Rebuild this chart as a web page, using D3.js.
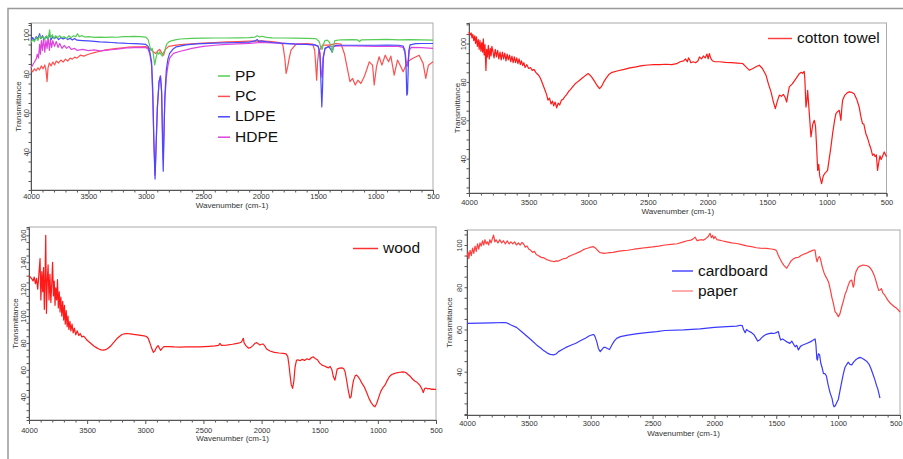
<meta charset="utf-8">

<!-- Load d3.js -->
<script src="https://d3js.org/d3.v7.min.js"></script>

<style>
  body { margin: 0; background: #fff; }
  svg text { font-family: "Liberation Sans", Arial, sans-serif; }
</style>

<div id="spectra"></div>
<script>

// x axis: wavenumber, same for every panel
var wavenumberDomain = [4000, 500];

// ---- panel 1 : plastics, [wavenumber, transmittance] ----
var pp = [[4000,96],[3985,97.5],[3970,96.5],[3955,98.5],[3940,97],[3925,99.5],[3910,98],[3895,99],[3880,97.5],[3865,99.5],[3850,98],[3838,102.5],[3830,98.5],[3815,100],[3800,98],[3785,99.5],[3770,98.5],[3750,99.5],[3730,98.5],[3710,99],[3690,98],[3670,99.5],[3650,98.5],[3630,99.5],[3610,99],[3595,100.5],[3580,99],[3560,99.5],[3530,98.8],[3500,99],[3450,98.6],[3400,98.8],[3350,98.6],[3300,98.8],[3250,98.7],[3200,99],[3150,99],[3100,99.1],[3050,99],[3000,98.8],[2980,97.5],[2965,94],[2955,92],[2945,93],[2935,90],[2923,84.5],[2912,88],[2900,91],[2890,90],[2880,91.2],[2870,90],[2855,89],[2845,91],[2835,92],[2820,95],[2800,96.3],[2770,97],[2735,97.5],[2700,97.8],[2600,98.1],[2500,98.2],[2400,98.3],[2300,98.3],[2200,98.4],[2100,98.5],[2050,98.8],[2030,99.5],[2010,98.8],[1990,99.2],[1950,98.6],[1900,98.4],[1800,98.3],[1700,98.2],[1600,98.1],[1520,98],[1490,96.5],[1475,93],[1465,92.5],[1455,95],[1440,97],[1420,97.2],[1400,96],[1385,93],[1376,91],[1368,94],[1355,97],[1300,97.4],[1200,97.5],[1155,97.3],[1140,96.5],[1125,97.3],[1000,97.5],[900,97.6],[800,97.4],[700,97.5],[600,97.3],[500,97.2]];

var pc = [[4000,82],[3985,81],[3970,82.5],[3955,81.5],[3940,83],[3925,82],[3910,84],[3895,82.5],[3880,84.5],[3870,82],[3860,76],[3852,83],[3840,85.5],[3825,84],[3810,86],[3795,84.5],[3780,86.5],[3760,85.5],[3740,87],[3720,86],[3700,87.5],[3680,86.5],[3660,88],[3640,87.5],[3620,88.5],[3600,88],[3570,89.5],[3540,89],[3500,90],[3450,90.8],[3400,91.5],[3350,92.2],[3300,92.6],[3250,93],[3200,93.3],[3150,93.6],[3100,93.8],[3050,93.8],[3000,93.9],[2970,93],[2950,92],[2930,91],[2915,90.4],[2900,91.5],[2880,92.5],[2860,90.5],[2845,89.5],[2830,92.5],[2800,94],[2750,94.5],[2700,94.9],[2600,95.3],[2500,95.7],[2400,96],[2300,96.3],[2200,96.5],[2100,96.7],[2000,96.8],[1900,96.5],[1837,96],[1808,95],[1790,88],[1779,80.2],[1765,83.6],[1750,88.5],[1736,92.1],[1692,95.2],[1605,95.5],[1547,95.2],[1530,92],[1524,87],[1513,76.7],[1505,86],[1495,91.3],[1461,94.7],[1403,94.7],[1345,95.5],[1301,95.2],[1272,90.4],[1243,81.9],[1223,75.9],[1200,77.6],[1177,74.2],[1154,76.7],[1128,75],[1099,78.4],[1078,81.9],[1055,86.1],[1026,84.4],[1012,74.2],[992,83.6],[969,88.7],[945,84.4],[916,89.5],[887,86.1],[867,89],[838,79.3],[809,87],[780,83.6],[760,81],[722,86.1],[679,87.8],[621,89.5],[586,85.3],[563,77.6],[540,84.4],[500,86.1]];

var ldpe = [[4000,97],[3985,98.5],[3970,97],[3955,99],[3940,98],[3925,100.5],[3915,98],[3900,99.5],[3885,97.5],[3870,99],[3855,98],[3840,100],[3825,97.5],[3810,99],[3795,98],[3780,99],[3760,97.5],[3740,98.5],[3720,97.8],[3700,98.5],[3680,97.5],[3660,98.2],[3640,97.3],[3620,98],[3600,97.2],[3550,97],[3500,96.8],[3450,96.6],[3400,96.3],[3350,96.2],[3300,96],[3250,95.8],[3200,95.7],[3150,95.5],[3100,95.4],[3050,95.3],[3000,95],[2980,94],[2965,91],[2950,86],[2940,72],[2930,45],[2920,26],[2912,40],[2900,62],[2885,76],[2872,78.5],[2862,70],[2855,45],[2849,30],[2843,45],[2835,68],[2822,82],[2808,87.5],[2793,90.4],[2765,92.5],[2735,93.8],[2650,94.8],[2561,95.3],[2400,95.7],[2200,96],[2100,96.2],[2050,96.8],[2030,97.5],[2015,96.5],[2000,96.8],[1900,96],[1800,95.6],[1700,95.2],[1600,95],[1530,94.8],[1500,94],[1485,90],[1475,75],[1468,63],[1462,72],[1455,88],[1440,93],[1410,94],[1390,92.5],[1378,91],[1368,93.5],[1350,94.5],[1300,94.6],[1200,94.6],[1100,94.6],[1000,94.6],[900,94.7],[800,94.6],[760,94.2],[745,92],[735,84],[728,69],[722,70],[716,82],[710,92],[700,94.8],[650,95.4],[600,95.5],[500,95.5]];

var hdpe = [[4000,83],[3985,84.5],[3970,86],[3955,87.5],[3945,90],[3935,88],[3925,95],[3918,90],[3910,97],[3900,92],[3890,98.5],[3880,91],[3870,97],[3860,93],[3850,99],[3840,92],[3830,97.5],[3820,93.5],[3810,97],[3795,94],[3780,96.5],[3765,93.5],[3750,95.5],[3730,93],[3710,94.5],[3690,93],[3670,94],[3650,92.5],[3620,93],[3600,92],[3550,92.5],[3500,91.8],[3450,92.2],[3400,91.7],[3350,92],[3300,92.3],[3250,92.6],[3200,93],[3150,93.3],[3100,93.4],[3050,93.5],[3000,93.4],[2980,92.5],[2965,90],[2950,84],[2940,68],[2930,44],[2920,28],[2912,42],[2900,63],[2885,76],[2874,79],[2864,72],[2855,50],[2849,36],[2843,50],[2835,66],[2822,78],[2808,84],[2793,88],[2760,90.4],[2700,91.5],[2650,92.2],[2600,93],[2500,94],[2400,94.6],[2300,95],[2200,95.3],[2100,95.6],[2000,96],[1900,95.8],[1800,95.6],[1700,95.3],[1600,95],[1530,94.8],[1500,94.2],[1485,91],[1472,80],[1465,78],[1458,88],[1440,93],[1400,94],[1300,94.2],[1200,94.2],[1100,94.1],[1000,94],[900,94],[800,94],[760,93.5],[740,90],[730,84],[722,84],[715,88],[705,92],[690,93.5],[600,93.4],[500,93]];

// ---- panel 2 : cotton towel ----
var cotton = [[4000,106],[3990,104.5],[3982,105.5],[3975,103],[3968,104.8],[3960,101.5],[3952,104],[3945,100],[3938,103.5],[3930,98.5],[3922,102],[3915,97],[3908,101.5],[3900,96],[3893,100.5],[3886,95.5],[3880,102.5],[3873,94],[3866,99.5],[3858,86],[3852,97],[3845,93],[3838,99],[3830,92],[3822,97.5],[3815,93.5],[3808,98.5],[3800,96],[3790,92.5],[3780,97],[3770,93],[3760,96.5],[3750,92],[3740,95.5],[3730,91.5],[3720,95.5],[3710,92],[3700,95],[3690,91],[3680,94.5],[3670,91.5],[3660,94],[3650,90.5],[3640,93.5],[3630,90],[3620,93],[3610,90],[3600,92.5],[3590,89.5],[3580,92],[3570,89],[3560,91],[3550,88.5],[3540,90],[3530,87.5],[3515,89],[3500,87],[3485,87.5],[3470,86],[3455,86.5],[3440,85],[3425,84],[3410,83],[3395,81],[3380,78.5],[3365,76],[3350,73.5],[3338,70.5],[3325,71.5],[3312,68.5],[3300,70],[3290,67.5],[3278,69.5],[3265,66.5],[3252,69],[3240,68],[3225,70.5],[3210,71],[3195,72.5],[3180,73.5],[3165,75],[3150,76],[3130,77.5],[3110,79],[3090,80],[3070,81],[3050,82],[3030,83],[3010,84],[3000,84.3],[2985,83.5],[2965,82],[2945,80],[2925,78],[2905,76.5],[2890,77.5],[2870,80],[2850,82],[2825,84],[2800,85],[2750,85.8],[2700,86.5],[2650,87.3],[2600,87.8],[2550,88.5],[2500,88.8],[2450,89],[2400,89],[2350,89.2],[2300,89],[2260,89.5],[2230,90.5],[2200,91],[2185,92],[2170,90.5],[2160,92.5],[2150,91.5],[2140,90],[2120,90.5],[2100,90],[2080,91],[2068,93],[2050,92],[2035,93.5],[2020,92.5],[2005,94.5],[1995,92],[1985,94.8],[1975,92.5],[1960,91],[1940,90.5],[1900,90.5],[1850,90.2],[1800,90],[1750,89.8],[1706,89.6],[1680,88],[1650,86.1],[1620,87],[1590,88],[1566,88.7],[1540,87],[1510,83.5],[1490,79],[1468,74.8],[1450,70],[1432,66.1],[1415,70],[1398,73.1],[1380,72.5],[1365,73.5],[1350,72],[1337,69.5],[1325,74],[1315,77.4],[1290,79],[1259,81.7],[1231,84.3],[1215,85],[1203,84.5],[1190,85.5],[1185,82],[1175,66.9],[1168,70],[1161,75.6],[1150,66],[1133,51.3],[1118,58],[1105,60],[1095,57],[1085,45],[1077,33.9],[1068,37],[1060,31],[1044,27],[1030,31],[1015,32.5],[994,33.9],[980,40],[966,46],[952,53],[935,60],[924,63.5],[910,64.5],[896,65.2],[882,60],[875,66],[868,70.4],[850,73],[830,74.3],[812,74.8],[790,74.5],[771,73.8],[750,71],[729,66.9],[715,62],[701,58.3],[690,58],[673,53],[660,51],[645,47.8],[630,45],[617,41.7],[605,42.5],[595,41],[585,42],[575,33.9],[565,38],[555,41.5],[545,39.5],[535,41],[519,43.5],[500,41]];

// ---- panel 3 : wood ----
var wood = [[4000,130.3],[3990,129],[3977,127.8],[3965,126],[3955,129],[3945,124],[3935,128],[3925,120],[3915,131],[3905,142.7],[3898,112],[3890,133],[3882,118],[3875,136],[3868,105],[3862,128],[3856,160],[3850,102],[3843,126],[3836,138],[3828,112],[3820,131],[3812,110],[3805,123],[3797,140],[3790,115],[3783,126],[3776,108],[3770,121],[3762,112],[3755,127],[3748,106],[3740,118],[3733,103],[3726,114],[3718,100],[3710,111],[3702,97],[3695,108],[3688,94],[3680,104],[3672,92],[3665,100],[3657,90],[3648,96],[3640,89],[3630,94],[3620,87.5],[3610,91],[3598,86],[3585,89],[3572,85.5],[3560,87],[3545,84.5],[3530,85],[3515,83.5],[3500,82],[3480,80.5],[3460,79],[3440,77.5],[3420,76.5],[3400,75.5],[3380,74.8],[3361,74.6],[3340,75],[3320,76],[3300,77.5],[3280,79.5],[3260,81.5],[3240,83.5],[3220,85],[3200,86.3],[3180,86.8],[3160,87],[3130,86.7],[3100,86.3],[3070,86],[3040,85.6],[3010,85.2],[2990,84.8],[2975,83.5],[2960,80],[2945,76],[2931,73],[2918,74],[2905,76.5],[2890,78],[2878,76],[2868,74.5],[2855,76],[2840,77.3],[2800,77.2],[2750,77],[2700,76.9],[2650,77],[2600,77],[2530,77.1],[2450,77.5],[2400,77.8],[2370,78.2],[2358,79.6],[2345,78.2],[2300,78.4],[2250,79],[2200,79.8],[2175,80.5],[2165,82],[2157,83.4],[2150,80],[2135,78],[2114,76.2],[2095,76.5],[2075,78],[2055,79.8],[2043,80.2],[2030,79.5],[2015,78.5],[2000,79],[1985,79.2],[1970,77.5],[1957,75.5],[1928,74],[1890,73],[1850,72.5],[1814,72.2],[1790,71.8],[1775,70],[1765,64],[1755,56.1],[1745,49],[1733,46.2],[1722,52],[1712,62],[1700,67],[1687,67.5],[1670,66.8],[1650,67.8],[1630,67],[1610,68.2],[1590,67.5],[1570,69.2],[1555,69.6],[1540,68.5],[1520,67.5],[1500,65],[1480,63.5],[1460,62.8],[1440,62],[1425,61.5],[1410,62.5],[1395,60],[1383,55],[1369,52.3],[1360,56],[1350,60.5],[1330,61.3],[1310,61.5],[1295,61],[1283,59],[1270,53],[1255,45],[1240,39],[1230,40],[1220,47],[1210,52],[1195,55.5],[1183,56.1],[1170,55],[1155,53],[1140,50.5],[1125,48.5],[1111,46.2],[1095,43],[1080,39.5],[1060,36],[1040,33.5],[1025,32.5],[1010,35],[995,39],[975,44],[955,47],[939,48.6],[920,52],[900,55],[880,56.5],[860,57.2],[838,57.8],[810,58.2],[782,58.5],[760,58],[740,56.5],[720,55],[700,53],[680,51.5],[667,51],[650,49.5],[635,48],[620,45.5],[609,43.1],[598,46],[585,46.5],[570,45.8],[555,46.1],[540,45.5],[525,45.7],[509,45.4],[500,45.5]];

// ---- panel 4 : cardboard and paper ----
var cardboard = [[4000,62.9],[3900,63],[3800,63.1],[3700,63.3],[3677,63.1],[3640,62],[3600,61],[3560,59],[3520,57],[3480,55],[3440,52.8],[3400,51],[3381,50],[3350,48.8],[3327,48.2],[3300,48],[3280,48.4],[3260,49.5],[3230,50.5],[3200,51.5],[3160,52.5],[3120,53.5],[3080,54.8],[3040,56],[3010,57],[2991,57.4],[2975,57.6],[2965,56.6],[2950,54],[2938,51],[2923,49.5],[2910,50.5],[2895,51.5],[2880,51.5],[2865,51],[2848,50.5],[2830,52.5],[2810,54.5],[2790,55.8],[2760,56.6],[2700,57.3],[2620,58],[2550,58.5],[2466,59],[2400,59.5],[2250,59.8],[2116,60.3],[2000,61],[1900,61.3],[1819,61.6],[1792,62],[1775,61.8],[1765,60],[1752,58.5],[1740,60],[1725,59.3],[1700,58.5],[1680,57.5],[1665,56],[1650,54.5],[1635,55],[1620,56],[1600,57],[1580,57.7],[1560,58],[1540,58.3],[1520,58.1],[1500,58.5],[1483,59],[1475,57],[1465,55],[1450,55.5],[1430,54.8],[1410,54],[1390,53.4],[1375,54.5],[1360,53],[1348,51.8],[1335,52.5],[1321,50.3],[1305,52],[1290,52.5],[1270,53],[1250,53.5],[1230,54],[1210,54.6],[1195,55.2],[1186,55.5],[1180,53],[1172,46],[1167,45.5],[1160,48.5],[1150,48],[1140,44],[1130,42],[1119,39.2],[1105,39],[1095,38],[1080,33.5],[1065,30],[1050,27.5],[1040,24.5],[1033,23.4],[1022,24],[1010,25.5],[998,27],[985,31],[972,35],[958,39],[945,42],[930,43.5],[918,44.5],[905,43.5],[890,43.2],[875,44.5],[860,45.5],[845,46.2],[823,46.8],[810,46.5],[790,45.8],[770,45],[750,43.5],[735,41.5],[720,39],[702,36],[690,33.5],[680,32],[670,29.5],[662,27.5]];

var paper = [[4000,94.5],[3990,96.5],[3985,93.5],[3975,97.5],[3965,95],[3955,98.5],[3945,96],[3935,99.5],[3925,97],[3915,100.5],[3905,98],[3895,101],[3885,99.5],[3875,102],[3865,100],[3855,102.5],[3845,100.5],[3835,101.5],[3825,100],[3815,102.5],[3805,101],[3795,103],[3785,104.7],[3775,101.5],[3765,102.5],[3750,101],[3735,102.5],[3720,101],[3705,102],[3690,100.5],[3675,102],[3660,100.5],[3645,101.5],[3630,100.5],[3615,101.5],[3600,100],[3585,101],[3570,100],[3555,101.2],[3542,100.5],[3530,99],[3515,99.5],[3500,98],[3485,97.5],[3470,96.5],[3455,97],[3440,95.5],[3425,95],[3410,94.5],[3395,94],[3380,94],[3360,93.2],[3340,92.8],[3327,92.5],[3310,92.3],[3295,92.1],[3280,92.5],[3260,92.4],[3240,93],[3220,93.5],[3200,93.6],[3180,94.5],[3160,95],[3140,95.5],[3120,96],[3100,96.5],[3080,97],[3060,97.8],[3040,98.2],[3020,98.6],[3000,99],[2977,99.2],[2960,98.5],[2945,97.5],[2925,96.4],[2910,96.3],[2890,96],[2870,96.2],[2850,96.4],[2820,96.5],[2780,97],[2740,97.3],[2700,97.5],[2650,98],[2600,98.4],[2550,98.8],[2500,99.1],[2450,99.5],[2400,100],[2350,100.3],[2300,100.6],[2250,101.5],[2220,102],[2190,102.3],[2170,103],[2156,103.7],[2140,102],[2125,102.3],[2110,102.5],[2090,102.3],[2070,103],[2050,104],[2035,105.5],[2025,103.5],[2015,104.5],[2005,103],[1995,104],[1980,102.5],[1960,102.3],[1940,102],[1900,101.5],[1860,101],[1820,100.7],[1780,100.2],[1740,99.6],[1700,99.2],[1660,98.7],[1631,98.5],[1580,98.4],[1540,98.1],[1510,97.8],[1497,97.2],[1485,95.3],[1470,93.5],[1455,91.8],[1440,90.5],[1425,89.5],[1416,89],[1400,90.5],[1380,92.5],[1360,93.5],[1340,94],[1320,94.2],[1300,95],[1280,95.6],[1260,96],[1240,96.6],[1220,97.1],[1200,97.6],[1187,97.6],[1178,94],[1170,92],[1160,94],[1150,94.5],[1141,93],[1130,90],[1115,87],[1100,85],[1090,84],[1075,82],[1060,78],[1050,75],[1039,72.5],[1025,68.5],[1012,67.5],[998,66],[985,67.5],[970,71],[955,74],[945,76.5],[931,78.5],[918,81],[905,82.8],[890,83.4],[878,80],[872,81],[866,85],[855,87.5],[837,89.5],[823,90],[800,90.5],[770,90.3],[750,89.7],[729,88.2],[715,86.5],[700,84.2],[685,81],[672,78.5],[662,78.7],[650,79.3],[640,77.5],[620,76],[600,74],[580,72.5],[560,71.5],[540,70.5],[527,70],[510,69],[500,68.2]];

// y tick labels per panel
var yLabels1 = [40, 60, 80, 100];
var yLabels3 = [40, 60, 80, 100, 120, 140, 160];

var svg = d3.select("#spectra")
  .append("svg")
    .attr("width", 903)
    .attr("height", 459);

// outer frame of the figure
svg.append("path")
  .attr("d", "M8,459V8.5H903")
  .attr("fill", "none")
  .attr("stroke", "#999")
  .attr("stroke-width", 1.5);

function drawPanel(p) {
  var x = d3.scaleLinear().domain(wavenumberDomain).range([p.left, p.right]);
  var y = d3.scaleLinear().domain(p.yDomain).range([p.bottom, p.top]);
  var g = svg.append("g");

  // plot box
  g.append("rect")
    .attr("x", p.left).attr("y", p.top)
    .attr("width", p.right - p.left).attr("height", p.bottom - p.top)
    .attr("fill", "none").attr("stroke", "#aaa");

  // X axis, minor ticks every 100
  var xa = g.append("g")
    .attr("transform", "translate(0," + p.bottom + ")")
    .call(d3.axisBottom(x)
      .tickValues(d3.range(500, 4001, 100))
      .tickSizeOuter(0)
      .tickSize(3)
      .tickFormat(function(d) { return d % 500 === 0 ? d : ""; }));
  xa.select(".domain").attr("stroke", "#555");
  xa.selectAll(".tick line").attr("stroke", "#555")
    .attr("y2", function(d) { return d % 500 === 0 ? 4 : 2.5; });
  xa.selectAll(".tick text")
    .attr("y", p.xLabelY).attr("dy", 0)
    .attr("fill", "#333")
    .style("font-size", "7.5px");
  // keep the last label inside the page
  if (p.right > 895) {
    xa.selectAll(".tick text").filter(function(d) { return d === 500; })
      .attr("text-anchor", "end").attr("x", 902 - p.right);
  }

  // Y axis, minor ticks every 5
  var lo = Math.ceil(p.yDomain[0] / 5) * 5;
  var ya = g.append("g")
    .attr("transform", "translate(" + p.left + ",0)")
    .call(d3.axisLeft(y)
      .tickValues(d3.range(lo, p.yDomain[1], 5))
      .tickSizeOuter(0)
      .tickSize(2.5)
      .tickFormat(function(d) { return p.yLabels.indexOf(d) >= 0 ? d : ""; }));
  ya.select(".domain").attr("stroke", "#555");
  ya.selectAll(".tick line").attr("stroke", "#555");
  ya.selectAll(".tick text")
    .attr("transform", "rotate(-90)")
    .attr("x", 0).attr("y", -p.yLabelOff).attr("dy", 0)
    .attr("text-anchor", "middle")
    .attr("fill", "#333")
    .style("font-size", "7.5px");

  // axis titles
  g.append("text")
    .attr("x", (p.left + p.right) / 2)
    .attr("y", p.bottom + p.xTitleY)
    .attr("text-anchor", "middle")
    .attr("fill", "#333")
    .style("font-size", "8px")
    .text("Wavenumber (cm-1)");

  g.append("text")
    .attr("transform", "translate(" + p.yTitleX + "," + ((p.top + p.bottom) / 2) + ") rotate(-90)")
    .attr("text-anchor", "middle")
    .attr("dominant-baseline", "central")
    .attr("fill", "#333")
    .style("font-size", "8px")
    .text("Transmittance");

  // spectra
  var line = d3.line()
    .x(function(d) { return x(d[0]); })
    .y(function(d) { return y(d[1]); });

  p.series.forEach(function(s) {
    g.append("path")
      .datum(s.data)
      .attr("fill", "none")
      .attr("stroke", s.color)
      .attr("stroke-width", 1.2)
      .attr("stroke-linejoin", "round")
      .attr("d", line);
  });

  // legend
  p.legend.forEach(function(s, i) {
    var ly = p.legendY + i * p.legendStep;
    g.append("line")
      .attr("x1", p.legendX).attr("x2", p.legendX + p.legendLen)
      .attr("y1", ly - 4.5).attr("y2", ly - 4.5)
      .attr("stroke", s.color).attr("stroke-width", 1.5);
    g.append("text")
      .attr("x", p.legendX + p.legendLen + 5)
      .attr("y", ly)
      .attr("fill", "#111")
      .style("font-size", "15.5px")
      .text(s.name);
  });
}

var cPP = "#55cc55", cPC = "#ff5050", cLDPE = "#4848ff", cHDPE = "#dd44dd";

drawPanel({
  left: 31, right: 433, top: 23, bottom: 190,
  yDomain: [20.4, 106], yLabels: yLabels1, yLabelOff: 2, yTitleX: 18,
  xLabelY: 8.7, xTitleY: 18,
  series: [
    {data: pc, color: cPC},
    {data: hdpe, color: cHDPE},
    {data: ldpe, color: cLDPE},
    {data: pp, color: cPP}
  ],
  legend: [
    {name: "PP", color: cPP},
    {name: "PC", color: cPC},
    {name: "LDPE", color: cLDPE},
    {name: "HDPE", color: cHDPE}
  ],
  legendX: 218, legendY: 80.5, legendStep: 20.4, legendLen: 12
});

drawPanel({
  left: 469, right: 886.5, top: 23, bottom: 193,
  yDomain: [22.1, 110.7], yLabels: yLabels1, yLabelOff: 2.6, yTitleX: 457,
  xLabelY: 12.3, xTitleY: 20.8,
  series: [{data: cotton, color: "#ff1a1a"}],
  legend: [{name: "cotton towel", color: "#ff4040"}],
  legendX: 768, legendY: 43, legendStep: 0, legendLen: 24
});

drawPanel({
  left: 29, right: 436, top: 227, bottom: 420,
  yDomain: [22.7, 166.2], yLabels: yLabels3, yLabelOff: 3, yTitleX: 15,
  xLabelY: 12.5, xTitleY: 21,
  series: [{data: wood, color: "#ff1a1a"}],
  legend: [{name: "wood", color: "#ff3030"}],
  legendX: 353, legendY: 253, legendStep: 0, legendLen: 25
});

drawPanel({
  left: 467, right: 900, top: 230, bottom: 415,
  yDomain: [19.5, 107.1], yLabels: yLabels1, yLabelOff: 5, yTitleX: 449,
  xLabelY: 11, xTitleY: 20.5,
  series: [
    {data: paper, color: "#ff4040"},
    {data: cardboard, color: "#3a3aff"}
  ],
  legend: [
    {name: "cardboard", color: "#4a4aff"},
    {name: "paper", color: "#ff9090"}
  ],
  legendX: 672, legendY: 275.5, legendStep: 20, legendLen: 21
});

</script>
